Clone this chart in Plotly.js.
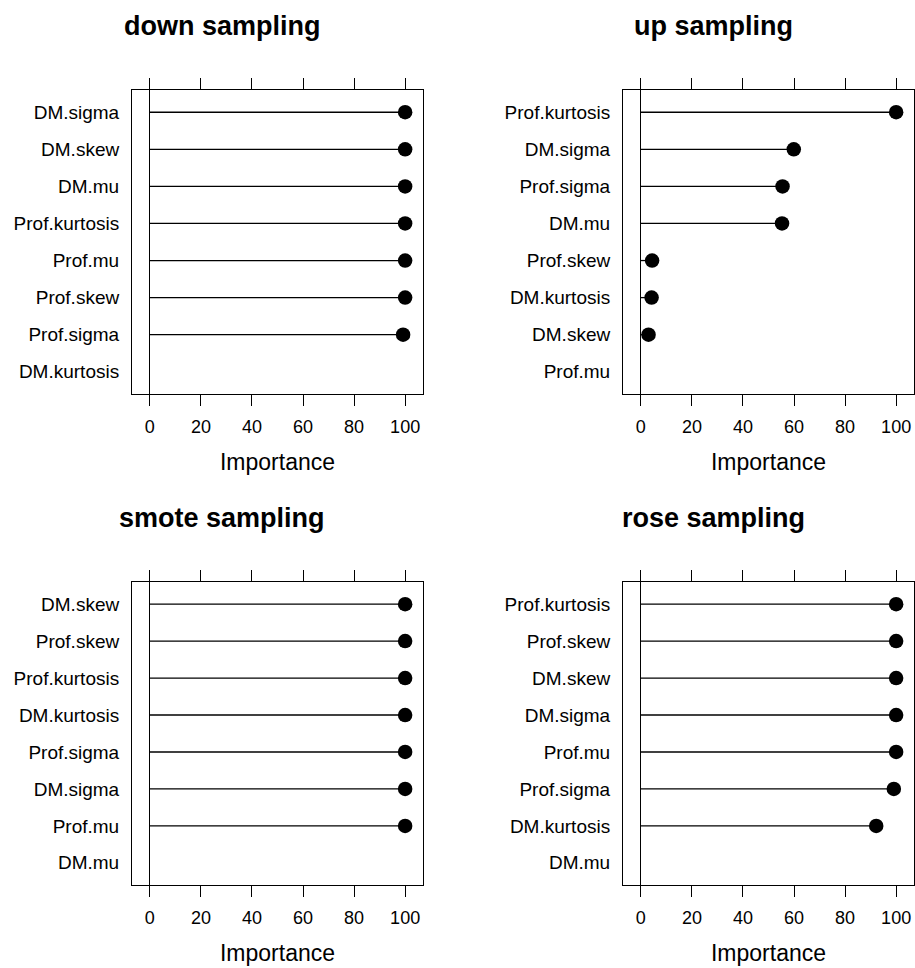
<!DOCTYPE html>
<html>
<head>
<meta charset="utf-8">
<script src="https://cdn.plot.ly/plotly-3.0.1.min.js"></script>
<style>
  html, body { margin: 0; padding: 0; background: #fff; }
  #chart { width: 915px; height: 968px; }
</style>
</head>
<body>
<div id="chart"></div>
<script>
// Variable importance per resampling scheme (rows listed top to bottom)
const downFeatures  = ["DM.sigma", "DM.skew", "DM.mu", "Prof.kurtosis", "Prof.mu", "Prof.skew", "Prof.sigma", "DM.kurtosis"];
const downValues    = [100, 100, 100, 100, 100, 100, 99.2, 0];

const upFeatures    = ["Prof.kurtosis", "DM.sigma", "Prof.sigma", "DM.mu", "Prof.skew", "DM.kurtosis", "DM.skew", "Prof.mu"];
const upValues      = [100, 59.9, 55.5, 55.3, 4.4, 4.2, 3.0, 0];

const smoteFeatures = ["DM.skew", "Prof.skew", "Prof.kurtosis", "DM.kurtosis", "Prof.sigma", "DM.sigma", "Prof.mu", "DM.mu"];
const smoteValues   = [100, 100, 100, 100, 100, 100, 100, 0];

const roseFeatures  = ["Prof.kurtosis", "Prof.skew", "DM.skew", "DM.sigma", "Prof.mu", "Prof.sigma", "DM.kurtosis", "DM.mu"];
const roseValues    = [100, 100, 100, 100, 100, 99.1, 92.2, 0];

const panelTitles = ["down sampling", "up sampling", "smote sampling", "rose sampling"];
const xTickValues = [0, 20, 40, 60, 80, 100];
const xAxisLabel  = "Importance";

const panels = [
  { feats: downFeatures,  vals: downValues },
  { feats: upFeatures,    vals: upValues },
  { feats: smoteFeatures, vals: smoteValues },
  { feats: roseFeatures,  vals: roseValues }
];

const W = 915, H = 968;
const FONT = '"Liberation Sans", Arial, Helvetica, sans-serif';

// panel boxes in pixels: [left, right] and [top, bottom]
const colPx = [[132, 423], [623, 914]];
const rowPx = [[90, 394], [582, 885]];

const traces = [];
const layout = {
  width: W, height: H,
  margin: { l: 0, r: 0, t: 0, b: 0 },
  paper_bgcolor: "#fff",
  plot_bgcolor: "#fff",
  showlegend: false,
  font: { family: FONT, color: "#000" },
  annotations: []
};

panels.forEach((p, i) => {
  const col = i % 2, row = Math.floor(i / 2);
  const suffix = i === 0 ? "" : String(i + 1);
  const xa = "x" + suffix, ya = "y" + suffix;

  // stems from zero to each value
  const lx = [], ly = [];
  p.feats.forEach((f, k) => { lx.push(0, p.vals[k], null); ly.push(f, f, null); });
  traces.push({
    type: "scatter", mode: "lines", x: lx, y: ly, xaxis: xa, yaxis: ya,
    line: { color: "#000", width: 1.3 }, hoverinfo: "skip"
  });
  // dots at each value (zero values carry no dot)
  const dx = [], dy = [];
  p.feats.forEach((f, k) => { if (p.vals[k] > 0) { dx.push(p.vals[k]); dy.push(f); } });
  traces.push({
    type: "scatter", mode: "markers", x: dx, y: dy, xaxis: xa, yaxis: ya,
    marker: { color: "#000", size: 14.5 }
  });

  const xd = [colPx[col][0] / W, colPx[col][1] / W];
  const yd = [1 - rowPx[row][1] / H, 1 - rowPx[row][0] / H];

  layout["xaxis" + suffix] = {
    domain: xd, anchor: ya, range: [-7, 107],
    tickvals: xTickValues, ticks: "outside", ticklen: 11, tickwidth: 1, tickcolor: "#000",
    showline: true, linecolor: "#000", linewidth: 1, mirror: "ticks",
    showgrid: false, zeroline: true, zerolinecolor: "#000", zerolinewidth: 1,
    ticklabelstandoff: 5,
    tickfont: { size: 18, family: FONT, color: "#000" },
    title: { text: xAxisLabel, font: { size: 23, family: FONT, color: "#000" }, standoff: 18 },
    fixedrange: true
  };
  layout["yaxis" + suffix] = {
    domain: yd, anchor: xa, type: "category",
    categoryorder: "array", categoryarray: p.feats.slice().reverse(),
    range: [-0.6, 7.6],
    ticks: "", showline: true, linecolor: "#000", linewidth: 1, mirror: true,
    showgrid: false, zeroline: false, ticklabelstandoff: 8,
    tickfont: { size: 19, family: FONT, color: "#000" },
    fixedrange: true
  };

  layout.annotations.push({
    text: panelTitles[i], xref: "paper", yref: "paper",
    x: (colPx[col][0] - 132 + 222) / W, y: 1 - (row === 0 ? 26 : 518) / H,
    xanchor: "center", yanchor: "middle", showarrow: false,
    font: { size: 27, family: FONT, color: "#000", weight: "bold" }
  });
});

Plotly.newPlot("chart", traces, layout, { displayModeBar: false, staticPlot: true });
</script>
</body>
</html>
